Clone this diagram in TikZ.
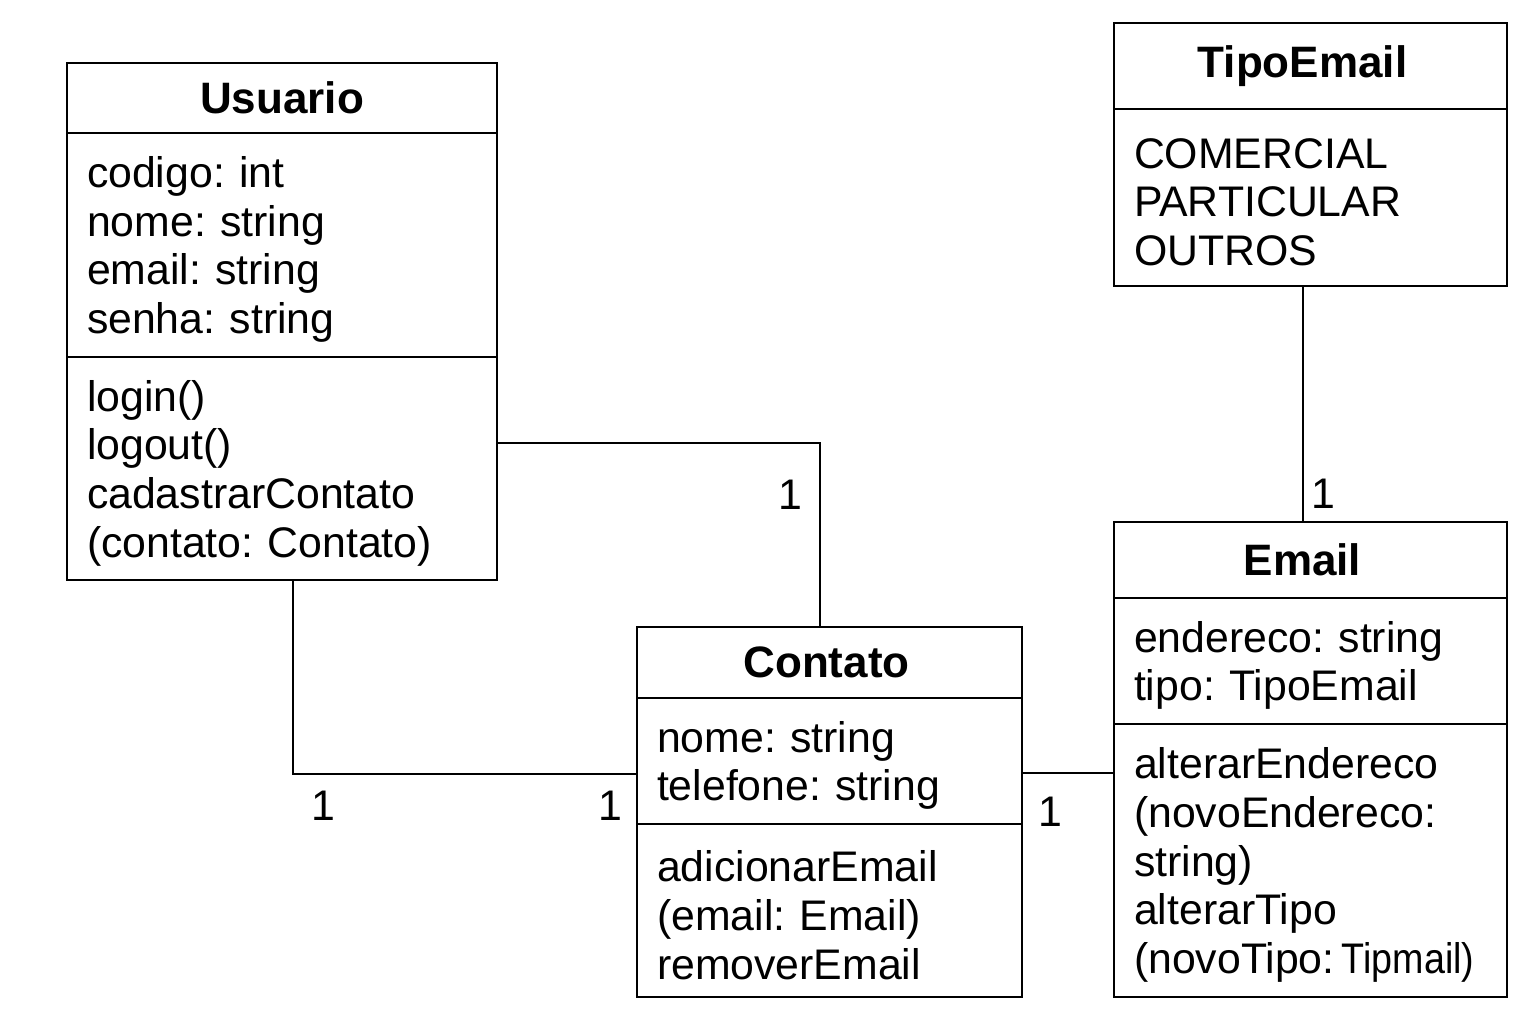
\documentclass[tikz,border=0pt]{standalone}
\usepackage{fontspec}
\setmainfont{Liberation Sans}
\frenchspacing
\usetikzlibrary{positioning}

\begin{document}
\begin{tikzpicture}[x=1pt, y=-1pt,
    box/.style = {draw, line width=2pt, outer sep=0pt, inner xsep=20pt, inner ysep=0pt,
                  font=\fontsize{42.8}{48.7}\selectfont},
    title/.style = {box, font=\fontsize{44}{48.7}\selectfont\bfseries, align=center},
    part/.style = {box, align=left, execute at begin node={\vadjust pre{\vskip9pt}}},
    mult/.style = {inner sep=0pt, font=\fontsize{42.8}{48.7}\selectfont}]

        \useasboundingbox (0,0) rectangle (1536,1024);

        % Usuario
        \node (usuario_title)[title, text width=390, minimum height=70, anchor=north west]
        at (67,63) {Usuario};
        \node (usuario_attr)[part, text width=390, minimum height=224, below=0pt of usuario_title]
        {codigo: int\\nome: string\\email: string\\senha: string};
        \node (usuario_meth)[part, text width=390, minimum height=223, below=0pt of usuario_attr]
        {login()\\logout()\\cadastrarContato\\(contato: Contato)};

        % TipoEmail
        \node (tipo_title)[title, text width=353, minimum height=86, anchor=north west]
        at (1114,23) {\hspace*{-16pt}TipoEmail};
        \node (tipo_attr)[part, text width=353, minimum height=177, below=0pt of tipo_title]
        {COMERCIAL\\PARTICULAR\\OUTROS};

        % Email
        \node (email_title)[title, text width=353, minimum height=76, anchor=north west]
        at (1114,522) {\hspace*{-16pt}Email};
        \node (email_attr)[part, text width=353, minimum height=126, below=0pt of email_title]
        {endereco: string\\tipo: TipoEmail};
        \node (email_meth)[part, text width=353, minimum height=273, below=0pt of email_attr]
        {alterarEndereco\\(novoEndereco:\\string)\\alterarTipo\\
         \mbox{(novoTipo:\,\scalebox{0.88}[1]{Tipmail)}}};

        % Contato
        \node (contato_title)[title, text width=345, minimum height=71, anchor=north west]
        at (637,627) {\hspace*{-6pt}Contato};
        \node (contato_attr)[part, text width=345, minimum height=126, below=0pt of contato_title]
        {nome: string\\telefone: string};
        \node (contato_meth)[part, text width=345, minimum height=173, below=0pt of contato_attr]
        {adicionarEmail\\(email: Email)\\removerEmail};

        % bends
        \coordinate (bend_1) at (820,443);
        \coordinate (bend_2) at (293,774);
        \coordinate (bend_3) at (1060,773);
        \coordinate (bend_4) at (1303,400);

        \draw[line width=2pt] (usuario_meth.east |- bend_1) -- (bend_1) -- (contato_title.north -| bend_1);
        \draw[line width=2pt] (usuario_meth.south -| bend_2) -- (bend_2) -- (contato_attr.west |- bend_2);
        \draw[line width=2pt] (contato_attr.east |- bend_3) -- (email_meth.west |- bend_3);
        \draw[line width=2pt] (tipo_attr.south -| bend_4) -- (email_title.north -| bend_4);

        \node (m_1)[mult] at (790,495) {1};
        \node (m_2)[mult] at (323,806) {1};
        \node (m_3)[mult] at (610,806) {1};
        \node (m_4)[mult] at (1050,812) {1};
        \node (m_5)[mult] at (1323,494) {1};
    \end{tikzpicture}
\end{document}
